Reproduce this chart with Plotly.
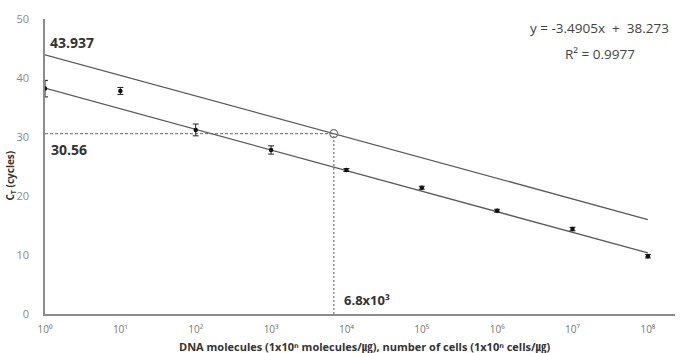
import plotly.graph_objects as go

# ---- data ----
exponents = [0, 1, 2, 3, 4, 5, 6, 7, 8]
tick_labels = ["10⁰", "10¹", "10²", "10³", "10⁴", "10⁵", "10⁶", "10⁷", "10⁸"]
ct_values = [38.2, 37.8, 31.2, 27.8, 24.4, 21.4, 17.5, 14.4, 9.8]
ct_errors = [1.4, 0.6, 1.0, 0.7, 0.25, 0.25, 0.25, 0.3, 0.3]
slope = -3.4905
intercept = 38.273
r_squared = 0.9977
upper_intercept = 43.937
sample_ct = 30.56
sample_conc = 6.8e3

x_vals = [10 ** e for e in exponents]
fit_x = [10 ** exponents[0], 10 ** exponents[-1]]
fit_lower = [intercept + slope * exponents[0], intercept + slope * exponents[-1]]
fit_upper = [upper_intercept + slope * exponents[0], upper_intercept + slope * exponents[-1]]

FONT = "Open Sans, Noto Sans CJK KR, sans-serif"
LINE_COL = "#5a5a5a"

fig = go.Figure()

fig.add_trace(go.Scatter(x=fit_x, y=fit_upper, mode="lines",
                         line=dict(color=LINE_COL, width=1.3), showlegend=False))
fig.add_trace(go.Scatter(x=fit_x, y=fit_lower, mode="lines",
                         line=dict(color=LINE_COL, width=1.3), showlegend=False))
# dashed guide lines
fig.add_trace(go.Scatter(x=[10 ** exponents[0], sample_conc], y=[sample_ct, sample_ct], mode="lines",
                         line=dict(color="#666666", width=1, dash="3px,2px"), showlegend=False))
fig.add_trace(go.Scatter(x=[sample_conc, sample_conc], y=[0, sample_ct], mode="lines",
                         line=dict(color="#777777", width=1.2, dash="2px,2px"), showlegend=False))
fig.add_trace(go.Scatter(x=[sample_conc], y=[sample_ct], mode="markers",
                         marker=dict(symbol="circle-open", size=8, color="#777777", line=dict(width=1.2)),
                         showlegend=False))
# data points
fig.add_trace(go.Scatter(x=x_vals, y=ct_values, mode="markers",
                         marker=dict(color="#111111", size=4.5),
                         error_y=dict(type="data", array=ct_errors, color="#222222", thickness=1, width=3),
                         showlegend=False))

fig.update_xaxes(type="log", range=[0, 8.36], tickvals=x_vals, ticktext=tick_labels,
                 showgrid=False, zeroline=False, showline=True, linecolor="#8c8c8c", linewidth=1.8,
                 ticks="", ticklabelstandoff=5, tickfont=dict(family=FONT, size=10, color="#777777"))
fig.update_yaxes(range=[0, 50], tickvals=[0, 10, 20, 30, 40, 50],
                 showgrid=False, zeroline=False, showline=True, linecolor="#8c8c8c", linewidth=1.5,
                 ticks="", ticklen=0, ticklabelstandoff=12,
                 tickfont=dict(family=FONT, size=11, color="#8a8a8a"))

annotations = [
    dict(x=0, y=upper_intercept, xref="x", yref="y", text="<b>43.937</b>", showarrow=False,
         xanchor="left", yanchor="middle", xshift=3, yshift=12,
         font=dict(family=FONT, size=14, color="#333333")),
    dict(x=0, y=sample_ct, xref="x", yref="y", text="<b>30.56</b>", showarrow=False,
         xanchor="left", yanchor="middle", xshift=4, yshift=-16,
         font=dict(family=FONT, size=14, color="#333333")),
    dict(x=3.8325, y=0, xref="x", yref="y", text="<b>6.8x10³</b>", showarrow=False,
         xanchor="left", yanchor="middle", xshift=8, yshift=14,
         font=dict(family=FONT, size=13, color="#333333")),
    dict(x=1, y=1, xref="paper", yref="paper",
         text="y\u00a0=\u00a0-3.4905x\u00a0\u00a0+\u00a0\u00a038.273", showarrow=False,
         xanchor="right", yanchor="middle", xshift=-4, yshift=-9,
         font=dict(family=FONT, size=13.5, color="#444444")),
    dict(x=0.8815, y=1, xref="paper", yref="paper", text="R²\u00a0=\u00a00.9977", showarrow=False,
         xanchor="center", yanchor="middle", yshift=-35,
         font=dict(family=FONT, size=13.5, color="#444444")),
    dict(x=0, y=0.5, xref="paper", yref="paper", text="<b>C<sub>T</sub> (cycles)</b>", showarrow=False,
         textangle=-90, xanchor="center", yanchor="middle", xshift=-35, yshift=-9,
         font=dict(family=FONT, size=10, color="#333333")),
    dict(x=0.508, y=0, xref="paper", yref="paper",
         text="<b>DNA molecules (1x10ⁿ molecules/㎍), number of cells (1x10ⁿ cells/㎍)</b>",
         showarrow=False, xanchor="center", yanchor="middle", yshift=-32,
         font=dict(family=FONT, size=11, color="#333333")),
]

fig.update_layout(width=682, height=353, margin=dict(l=45, r=7, t=19, b=39),
                  plot_bgcolor="white", paper_bgcolor="white", annotations=annotations,
                  showlegend=False)

fig.write_html("out.html")
